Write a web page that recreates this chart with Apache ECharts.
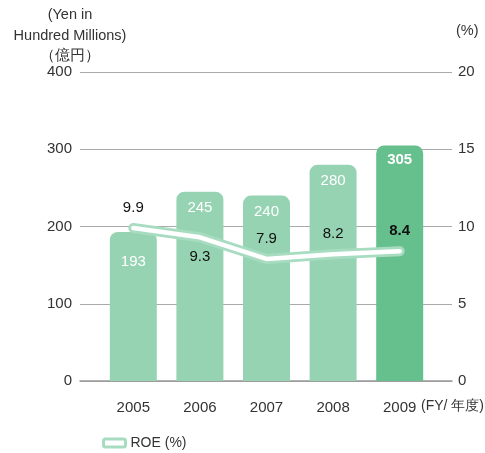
<!DOCTYPE html>
<html>
<head>
<meta charset="utf-8">
<script src="https://cdn.jsdelivr.net/npm/echarts@6/dist/echarts.min.js"></script>
<style>
  html, body { margin: 0; padding: 0; background: #fff; }
  #chart { width: 485px; height: 453px; }
</style>
</head>
<body>
<div id="chart"></div>
<script>
const years = ["2005", "2006", "2007", "2008", "2009"];
const sales = [193, 245, 240, 280, 305];
const roe = [9.9, 9.3, 7.9, 8.2, 8.4];
const roeLabelPos = ["top", "bottom", "top", "top", "top"];
const leftTicks = { min: 0, max: 400, interval: 100 };
const rightTicks = { min: 0, max: 20, interval: 5 };

const font = "'Liberation Sans', Arial, sans-serif";
const barColor = "#96d3b3";
const lastBarColor = "#66c08d";
const lineGreen = "#a8dcc1";

const chart = echarts.init(document.getElementById("chart"));

const last = sales.length - 1;

const option = {
  animation: false,
  textStyle: { fontFamily: font },
  grid: [
    { left: 80, right: 33, top: 72, bottom: 72 },
    { left: 100, right: 52, top: 72, bottom: 72 },
  ],
  legend: {
    data: ["ROE (%)"],
    left: 97,
    top: 431,
    icon: "roundRect",
    itemWidth: 22,
    itemHeight: 8,
    itemGap: 10,
    itemStyle: { color: "#fff", borderColor: lineGreen, borderWidth: 3 },
    textStyle: { fontFamily: font, fontSize: 14, color: "#333" },
  },
  graphic: [
    {
      type: "text",
      x: 70,
      y: 5,
      style: {
        text: "(Yen in\nHundred Millions)\n（億円）",
        align: "center",
        fontFamily: font,
        fontSize: 14.5,
        lineHeight: 20.5,
        fill: "#333",
      },
    },
    {
      type: "text",
      x: 456,
      y: 23,
      style: { text: "(%)", fontFamily: font, fontSize: 14.5, fill: "#333" },
    },
    {
      type: "text",
      x: 421,
      y: 399,
      style: { text: "(FY/ 年度)", fontFamily: font, fontSize: 14, fill: "#333" },
    },
  ],
  xAxis: [
    {
      gridIndex: 0,
      type: "category",
      data: years,
      axisLine: { show: true, lineStyle: { color: "#999", width: 1.5 } },
      axisTick: { show: false },
      axisLabel: { show: false },
    },
    {
      gridIndex: 1,
      type: "category",
      data: years,
      axisLine: { show: false },
      axisTick: { show: false },
      axisLabel: { color: "#333", fontSize: 15, margin: 19, fontFamily: font },
    },
  ],
  yAxis: [
    {
      gridIndex: 0,
      type: "value",
      ...leftTicks,
      axisLine: { show: false },
      axisTick: { show: false },
      axisLabel: { color: "#333", fontSize: 15, margin: 8, fontFamily: font },
      splitLine: { lineStyle: { color: "#aaa", width: 1 } },
    },
    {
      gridIndex: 0,
      type: "value",
      position: "right",
      ...rightTicks,
      axisLine: { show: false },
      axisTick: { show: false },
      axisLabel: { color: "#333", fontSize: 15, margin: 6, fontFamily: font },
      splitLine: { show: false },
    },
    {
      gridIndex: 1,
      type: "value",
      ...leftTicks,
      show: false,
    },
    {
      gridIndex: 1,
      type: "value",
      ...rightTicks,
      show: false,
    },
  ],
  series: [
    {
      name: "Sales",
      type: "bar",
      xAxisIndex: 1,
      yAxisIndex: 2,
      barWidth: 47,
      data: sales.map((v, i) => ({
        value: v,
        itemStyle: { color: i === last ? lastBarColor : barColor },
        // first label sits under the ROE line
        label: i === last ? { fontWeight: "bold", distance: 7 } : i === 0 ? { distance: 22 } : {},
      })),
      itemStyle: { borderRadius: [8, 8, 0, 0] },
      label: {
        show: true,
        position: "insideTop",
        distance: 9,
        color: "#fff",
        fontSize: 15,
        fontFamily: font,
      },
      z: 2,
    },
    {
      name: "ROE (%)",
      type: "line",
      xAxisIndex: 1,
      yAxisIndex: 3,
      data: roe,
      symbol: "none",
      lineStyle: { color: lineGreen, width: 10, cap: "round", join: "round" },
      itemStyle: { color: "#fff", borderColor: lineGreen, borderWidth: 3 },
      z: 3,
    },
    {
      name: "ROE inner",
      type: "line",
      xAxisIndex: 1,
      yAxisIndex: 3,
      data: roe.map((v, i) => ({
        value: v,
        label: {
          position: roeLabelPos[i],
          fontWeight: i === last ? "bold" : "normal",
        },
      })),
      symbol: "circle",
      symbolSize: 1,
      showSymbol: true,
      itemStyle: { color: "rgba(0,0,0,0)" },
      lineStyle: { color: "#fff", width: 4.5, cap: "round", join: "round" },
      label: {
        show: true,
        distance: 12,
        color: "#111",
        fontSize: 15,
        fontFamily: font,
      },
      z: 4,
    },
  ],
};

chart.setOption(option);
</script>
</body>
</html>
